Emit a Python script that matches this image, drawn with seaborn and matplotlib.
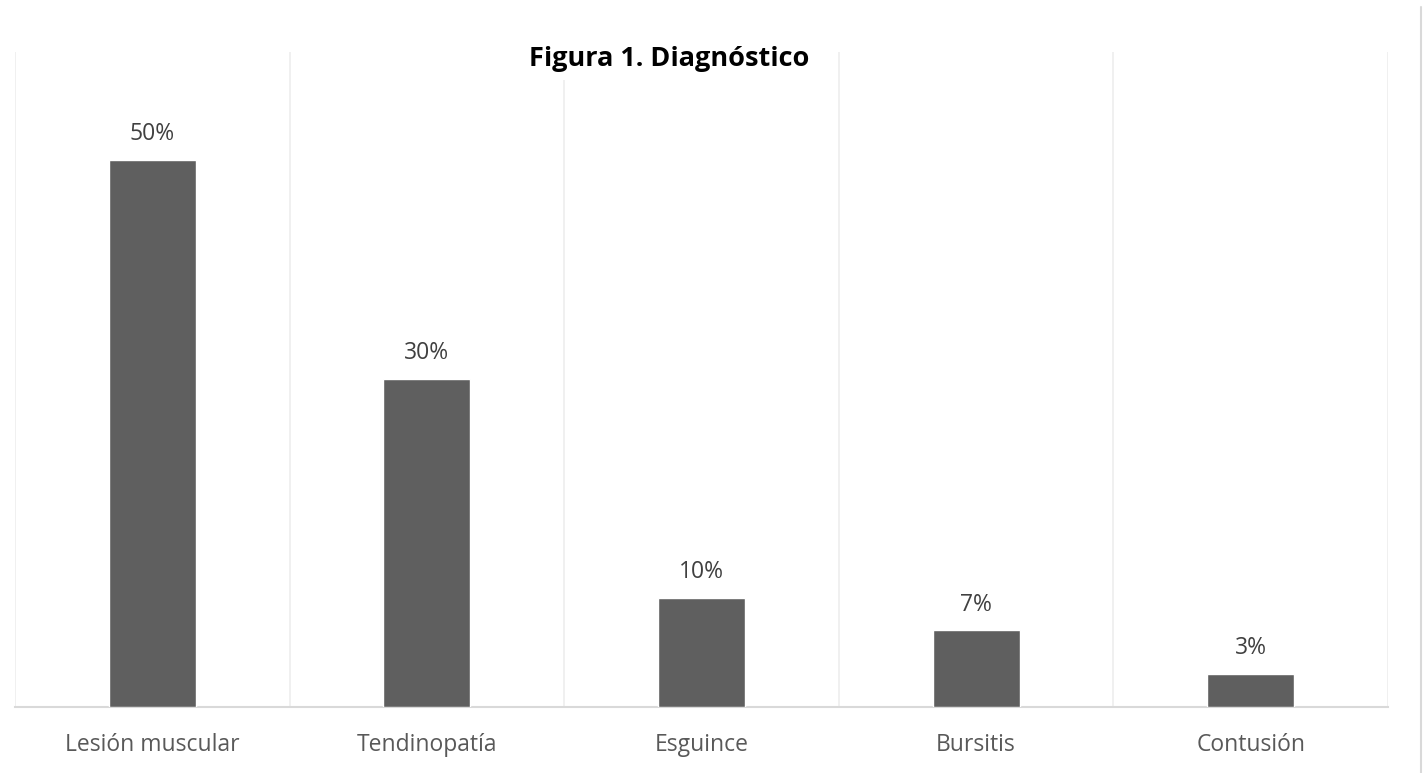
import matplotlib
matplotlib.use("Agg")
import matplotlib.pyplot as plt
import seaborn as sns
import pandas as pd
from matplotlib.lines import Line2D

categories = ["Lesión muscular", "Tendinopatía", "Esguince", "Bursitis", "Contusión"]
values = [50, 30, 10, 7, 3]
labels = ["50%", "30%", "10%", "7%", "3%"]

sns.set_theme(style="white")
plt.rcParams["font.family"] = ["Open Sans", "DejaVu Sans"]

df = pd.DataFrame({"cat": categories, "val": values})

fig = plt.figure(figsize=(14.26, 7.73), dpi=100)
ax = fig.add_axes([15 / 1426, 1 - 707 / 773, (1388 - 15) / 1426, (707 - 52) / 773])

sns.barplot(data=df, x="cat", y="val", color="#5f5f5f", width=0.317,
            saturation=1, ax=ax, zorder=3)

ax.set_xlim(-0.5, len(categories) - 0.5)
ax.set_ylim(0, 59.9)

# category separators
for b in range(len(categories) + 1):
    ax.axvline(b - 0.5, color="#efefef", lw=1.3, zorder=1)

for side in ["top", "left", "right"]:
    ax.spines[side].set_visible(False)
ax.spines["bottom"].set_color("#d9d9d9")
ax.spines["bottom"].set_linewidth(1.5)

ax.set_yticks([])
ax.set_xlabel("")
ax.set_ylabel("")
ax.tick_params(axis="x", length=0, pad=18.5, labelsize=16.5, labelcolor="#595959")

for i, (v, t) in enumerate(zip(values, labels)):
    ax.annotate(t, (i, v), xytext=(0, 10), textcoords="offset points",
                ha="center", va="bottom", fontsize=16.5, color="#404040")

fig.text(669 / 1426, 1 - 59 / 773, "Figura 1. Diagnóstico", ha="center", va="center",
         fontsize=19.5, fontweight="bold", color="black",
         bbox=dict(facecolor="white", edgecolor="none", pad=6), zorder=5)

# outer frame edge on the right
fig.add_artist(Line2D([1421 / 1426, 1421 / 1426], [0, 1 - 7 / 773],
                      transform=fig.transFigure, color="#d9d9d9", lw=1.5))

fig.savefig("out.png", dpi=100, facecolor="white")
